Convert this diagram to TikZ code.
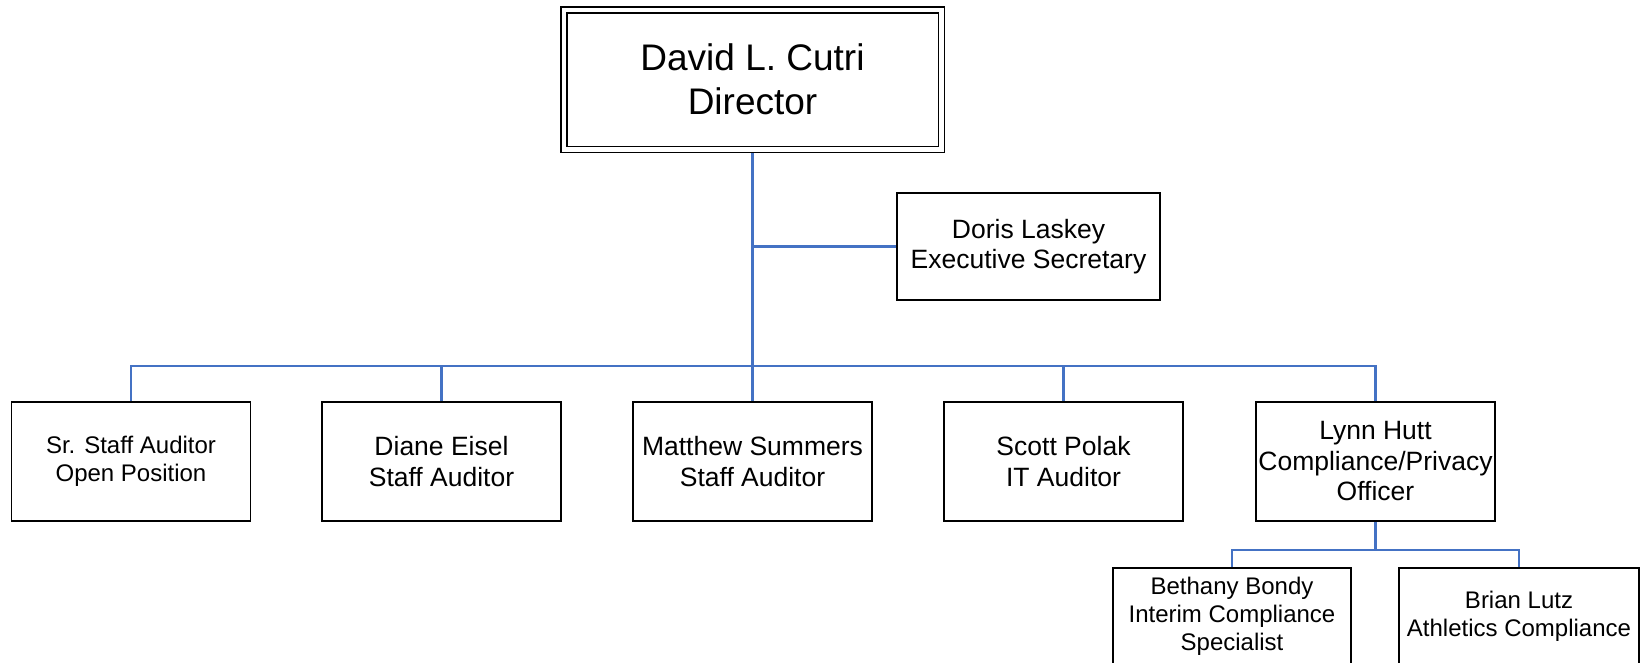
\documentclass[tikz,border=0pt]{standalone}
\usepackage{fontspec}
\setmainfont{Liberation Sans}

\begin{document}
\begin{tikzpicture}[x=1pt,y=1pt,
  box/.style={draw=black,line width=1.5pt,align=center,inner sep=0pt,
    minimum width=239pt,minimum height=119pt,font=\fontsize{26.5}{30.5}\selectfont},
  smallbox/.style={box,font=\fontsize{24}{28}\selectfont},
  link/.style={draw=lineColor,line width=2.2pt}]
\definecolor{lineColor}{RGB}{68,114,196}
\path[use as bounding box,fill=white] (0,0) rectangle (1645,662);

% director
\node[draw=black,double,line width=1.5pt,double distance=4.5pt,outer sep=3.75pt,
  align=center,inner sep=0pt,minimum width=377.5pt,minimum height=139.5pt,
  font=\fontsize{37}{44}\selectfont] (dir) at (752.5,582.3) {David L. Cutri\\Director};

\node[box,minimum width=263pt,minimum height=107pt] (laskey) at (1028.5,415.5) {Doris Laskey\\Executive Secretary};

% staff row
\node[smallbox] (open) at (131,200.5) {Sr. Staff Auditor\\Open Position};
\node[box] (eisel) at (441.5,200.5) {Diane Eisel\\Staff Auditor};
\node[box] (summers) at (752.5,200.5) {Matthew Summers\\Staff Auditor};
\node[box] (polak) at (1063.5,200.5) {Scott Polak\\IT Auditor};
\node[box] (hutt) at (1375.5,200.5) {Lynn Hutt\\Compliance/Privacy\\Officer};

% compliance row
\node[smallbox,minimum width=238pt,minimum height=96pt] (bondy) at (1232,46) {Bethany Bondy\\Interim Compliance\\Specialist};
\node[smallbox,minimum width=240pt,minimum height=96pt] (lutz) at (1519,46) {Brian Lutz\\Athletics Compliance};

\coordinate (bar) at (0,296);
\coordinate (subbar) at (0,112);

\draw[link] (dir.south) -- (summers.north);
\draw[link] (laskey.west) -- (laskey.west -| dir.south);
\draw[link] (open.north) -- (open.north |- bar) -- (hutt.north |- bar) -- (hutt.north);
\draw[link] (eisel.north) -- (eisel.north |- bar);
\draw[link] (polak.north) -- (polak.north |- bar);
\draw[link] (hutt.south) -- (hutt.south |- subbar);
\draw[link] (bondy.north) -- (bondy.north |- subbar) -- (lutz.north |- subbar) -- (lutz.north);
\end{tikzpicture}
\end{document}
